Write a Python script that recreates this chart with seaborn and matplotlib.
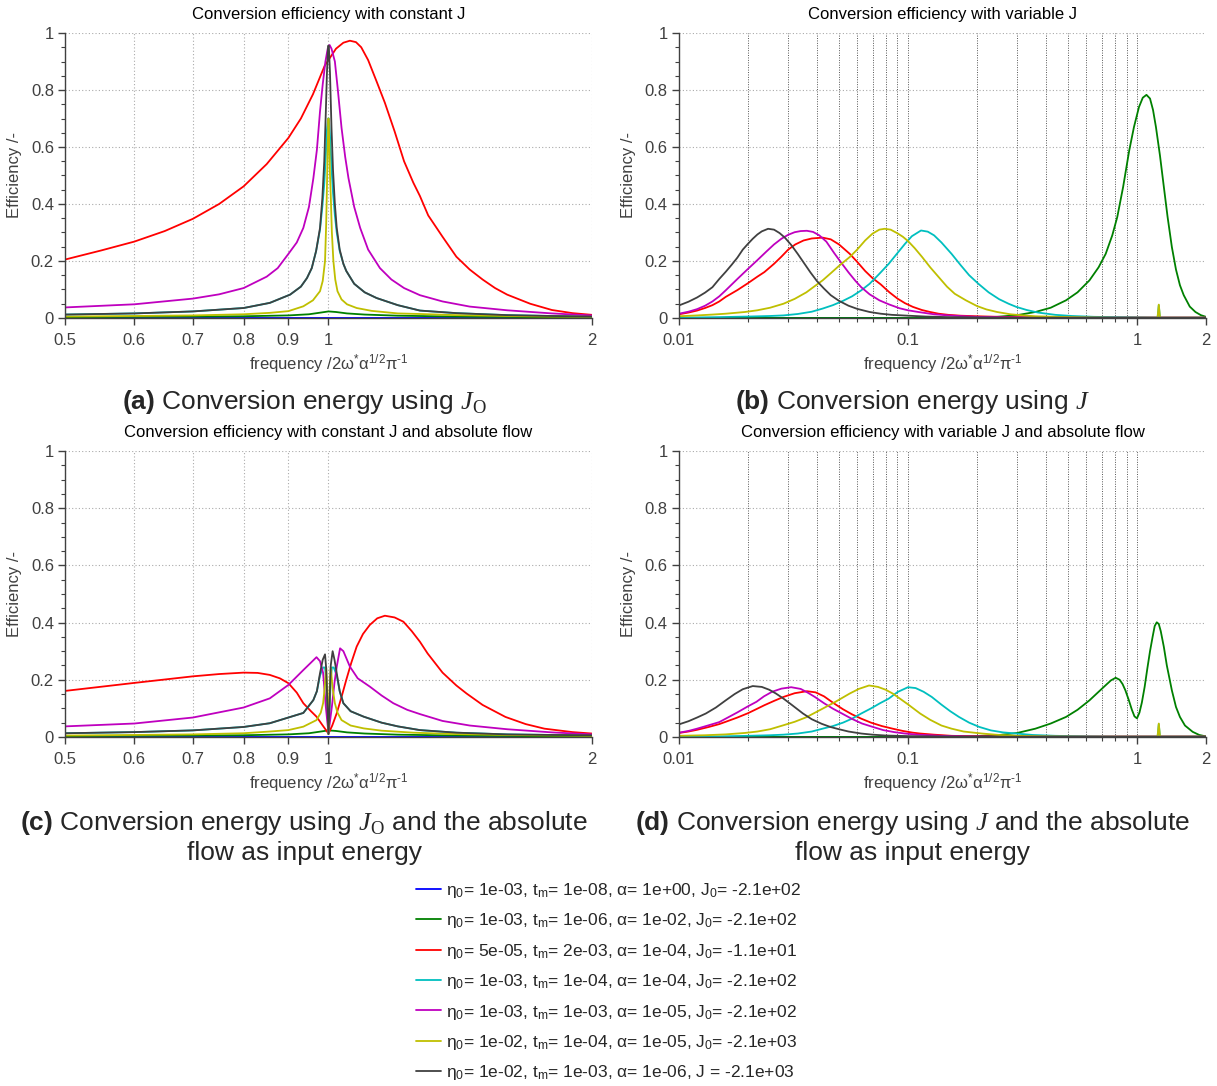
import matplotlib
matplotlib.use('Agg')
import matplotlib.pyplot as plt
from matplotlib.lines import Line2D
from matplotlib.ticker import FixedLocator, NullFormatter, MultipleLocator
import pandas as pd
import seaborn as sns

# ---------------------------------------------------------------- data
names = ['blue', 'green', 'red', 'cyan', 'magenta', 'yellow', 'black']
colors = ['#0000ff', '#008000', '#ff0000', '#00bfbf', '#bf00bf', '#bfbf00', '#404040']
labels = [
    r'$\eta_0$= 1e-03, $t_m$= 1e-08, $\alpha$= 1e+00, $J_0$= -2.1e+02',
    r'$\eta_0$= 1e-03, $t_m$= 1e-06, $\alpha$= 1e-02, $J_0$= -2.1e+02',
    r'$\eta_0$= 5e-05, $t_m$= 2e-03, $\alpha$= 1e-04, $J_0$= -1.1e+01',
    r'$\eta_0$= 1e-03, $t_m$= 1e-04, $\alpha$= 1e-04, $J_0$= -2.1e+02',
    r'$\eta_0$= 1e-03, $t_m$= 1e-03, $\alpha$= 1e-05, $J_0$= -2.1e+02',
    r'$\eta_0$= 1e-02, $t_m$= 1e-04, $\alpha$= 1e-05, $J_0$= -2.1e+03',
    r'$\eta_0$= 1e-02, $t_m$= 1e-03, $\alpha$= 1e-06, J = -2.1e+03',
]
titles = ['Conversion efficiency with constant J',
          'Conversion efficiency with variable J',
          'Conversion efficiency with constant J and absolute flow',
          'Conversion efficiency with variable J and absolute flow']
captions = [r'$\mathbf{(a)}$ Conversion energy using $\mathit{J}_\mathsf{O}$',
            r'$\mathbf{(b)}$ Conversion energy using $\mathit{J}$',
            r'$\mathbf{(c)}$ Conversion energy using $\mathit{J}_\mathsf{O}$ and the absolute' + '\nflow as input energy',
            r'$\mathbf{(d)}$ Conversion energy using $\mathit{J}$ and the absolute' + '\nflow as input energy']

# (frequency, efficiency) pairs
# panel (a): constant J
a_blue = [(0.5, 0.001), (2.0, 0.001)]
a_green = [(0.5, 0.003), (0.7, 0.005), (0.8, 0.006), (0.9, 0.009), (0.95, 0.013), (0.98, 0.019),
           (1.0, 0.023), (1.02, 0.021), (1.05, 0.016), (1.1, 0.012), (1.2, 0.008), (1.4, 0.005),
           (1.7, 0.003), (2.0, 0.003)]
a_red = [(0.5, 0.205), (0.55, 0.237), (0.6, 0.268), (0.65, 0.305), (0.7, 0.348), (0.75, 0.40),
         (0.8, 0.462), (0.85, 0.54), (0.9, 0.632), (0.93, 0.70), (0.96, 0.785), (0.99, 0.885),
         (1.02, 0.945), (1.04, 0.966), (1.058, 0.973), (1.075, 0.968), (1.09, 0.95), (1.11, 0.905),
         (1.135, 0.83), (1.16, 0.755), (1.19, 0.655), (1.22, 0.55), (1.25, 0.475), (1.272, 0.428),
         (1.3, 0.36), (1.35, 0.285), (1.4, 0.215), (1.45, 0.17), (1.5, 0.135), (1.55, 0.105),
         (1.6, 0.082), (1.7, 0.05), (1.8, 0.028), (1.9, 0.017), (2.0, 0.011)]
a_cyan = [(0.5, 0.012), (0.6, 0.016), (0.7, 0.023), (0.8, 0.035), (0.857, 0.053), (0.904, 0.082),
          (0.93, 0.11), (0.945, 0.14), (0.957, 0.175), (0.968, 0.235), (0.978, 0.31), (0.984, 0.39),
          (0.989, 0.47), (0.993, 0.57), (0.996, 0.66), (0.999, 0.70), (1.001, 0.70), (1.004, 0.64),
          (1.008, 0.53), (1.012, 0.44), (1.017, 0.36), (1.022, 0.3), (1.03, 0.235), (1.04, 0.19),
          (1.048, 0.165), (1.07, 0.12), (1.1, 0.09), (1.135, 0.07), (1.2, 0.045), (1.272, 0.026),
          (1.4, 0.017), (1.6, 0.01), (1.8, 0.007), (2.0, 0.005)]
a_magenta = [(0.5, 0.037), (0.6, 0.048), (0.7, 0.068), (0.75, 0.083), (0.8, 0.105), (0.85, 0.145),
             (0.875, 0.175), (0.9, 0.225), (0.92, 0.265), (0.936, 0.316), (0.95, 0.39), (0.961, 0.49),
             (0.97, 0.59), (0.978, 0.725), (0.985, 0.82), (0.992, 0.9), (0.998, 0.945), (1.003, 0.958),
             (1.008, 0.945), (1.012, 0.925), (1.017, 0.90), (1.025, 0.8), (1.035, 0.667), (1.045, 0.565),
             (1.054, 0.491), (1.07, 0.39), (1.087, 0.316), (1.11, 0.24), (1.145, 0.175), (1.18, 0.135),
             (1.22, 0.105), (1.272, 0.08), (1.35, 0.058), (1.45, 0.04), (1.6, 0.027), (1.8, 0.016),
             (2.0, 0.009)]
a_yellow = [(0.5, 0.005), (0.6, 0.007), (0.7, 0.009), (0.8, 0.013), (0.857, 0.018), (0.9, 0.024),
            (0.936, 0.041), (0.96, 0.062), (0.978, 0.094), (0.985, 0.13), (0.991, 0.2), (0.994, 0.33),
            (0.996, 0.46), (0.998, 0.6), (1.0, 0.70), (1.002, 0.62), (1.004, 0.5), (1.006, 0.43),
            (1.009, 0.3), (1.013, 0.2), (1.018, 0.135), (1.024, 0.094), (1.035, 0.065), (1.05, 0.048),
            (1.077, 0.035), (1.12, 0.025), (1.2, 0.016), (1.272, 0.014), (1.4, 0.01), (1.6, 0.007),
            (1.8, 0.005), (2.0, 0.004)]
a_black = [(0.5, 0.012), (0.6, 0.016), (0.7, 0.023), (0.8, 0.035), (0.857, 0.053), (0.904, 0.082),
           (0.93, 0.11), (0.945, 0.14), (0.957, 0.175), (0.968, 0.235), (0.978, 0.316), (0.984, 0.42),
           (0.989, 0.55), (0.993, 0.72), (0.996, 0.86), (0.999, 0.955), (1.001, 0.955), (1.004, 0.86),
           (1.008, 0.667), (1.012, 0.52), (1.017, 0.4), (1.022, 0.316), (1.03, 0.24), (1.04, 0.19),
           (1.048, 0.165), (1.07, 0.12), (1.1, 0.09), (1.135, 0.07), (1.2, 0.045), (1.272, 0.026),
           (1.4, 0.017), (1.6, 0.01), (1.8, 0.007), (2.0, 0.005)]

# panel (b): variable J
b_blue = [(0.01, 0.0), (2.0, 0.0)]
b_green = [(0.01, 0.0), (0.15, 0.0), (0.2, 0.002), (0.245, 0.004), (0.3, 0.01), (0.36, 0.021),
           (0.42, 0.036), (0.49, 0.062), (0.55, 0.09), (0.62, 0.132), (0.68, 0.178), (0.73, 0.225),
           (0.78, 0.29), (0.82, 0.354), (0.87, 0.46), (0.925, 0.588), (0.97, 0.67), (1.02, 0.74),
           (1.06, 0.773), (1.10, 0.783), (1.14, 0.77), (1.175, 0.73), (1.21, 0.67), (1.26, 0.57),
           (1.31, 0.46), (1.36, 0.355), (1.42, 0.249), (1.48, 0.17), (1.54, 0.115), (1.60, 0.08),
           (1.70, 0.04), (1.80, 0.021), (1.90, 0.01), (2.0, 0.004)]
b_red = [(0.010, 0.013), (0.011, 0.019), (0.012, 0.026), (0.013, 0.035), (0.014, 0.045), (0.015, 0.058),
         (0.016, 0.074), (0.018, 0.098), (0.020, 0.122), (0.022, 0.145), (0.0236, 0.161), (0.026, 0.19),
         (0.028, 0.215), (0.030, 0.24), (0.0322, 0.258), (0.035, 0.272), (0.038, 0.279), (0.0424, 0.282),
         (0.046, 0.276), (0.050, 0.258), (0.0557, 0.225), (0.060, 0.197), (0.065, 0.165), (0.070, 0.14),
         (0.076, 0.118), (0.083, 0.09), (0.090, 0.068), (0.097, 0.052), (0.105, 0.039), (0.115, 0.028),
         (0.125, 0.021), (0.136, 0.015), (0.15, 0.011), (0.17, 0.008), (0.2, 0.006), (0.25, 0.004),
         (0.3, 0.003), (0.4, 0.002), (0.6, 0.001), (2.0, 0.001)]
b_cyan = [(0.010, 0.001), (0.015, 0.003), (0.020, 0.005), (0.025, 0.007), (0.0286, 0.009), (0.033, 0.014),
          (0.038, 0.022), (0.0424, 0.033), (0.047, 0.045), (0.052, 0.06), (0.057, 0.076), (0.0625, 0.097),
          (0.068, 0.12), (0.075, 0.155), (0.0824, 0.19), (0.09, 0.228), (0.097, 0.26), (0.104, 0.287),
          (0.114, 0.307), (0.122, 0.303), (0.13, 0.29), (0.14, 0.265), (0.155, 0.225), (0.17, 0.185),
          (0.185, 0.15), (0.203, 0.12), (0.225, 0.09), (0.25, 0.066), (0.275, 0.05), (0.297, 0.039),
          (0.33, 0.028), (0.37, 0.019), (0.44, 0.011), (0.52, 0.007), (0.65, 0.004), (0.8, 0.003),
          (1.0, 0.002), (1.23, 0.001), (1.245, 0.045), (1.26, 0.001), (2.0, 0.001)]
b_magenta = [(0.010, 0.015), (0.011, 0.022), (0.012, 0.031), (0.013, 0.043), (0.014, 0.058), (0.015, 0.076),
             (0.016, 0.097), (0.018, 0.137), (0.020, 0.172), (0.022, 0.203), (0.024, 0.232), (0.026, 0.258),
             (0.028, 0.278), (0.030, 0.292), (0.032, 0.301), (0.034, 0.305), (0.0362, 0.306), (0.0385, 0.302),
             (0.041, 0.29), (0.044, 0.268), (0.0476, 0.228), (0.051, 0.195), (0.055, 0.16), (0.059, 0.13),
             (0.0625, 0.108), (0.068, 0.083), (0.075, 0.062), (0.0824, 0.048), (0.092, 0.034), (0.10, 0.027),
             (0.113, 0.02), (0.13, 0.013), (0.15, 0.009), (0.167, 0.007), (0.2, 0.004), (0.3, 0.002),
             (0.5, 0.001), (2.0, 0.001)]
b_yellow = [(0.010, 0.006), (0.012, 0.009), (0.014, 0.012), (0.016, 0.015), (0.0194, 0.021), (0.022, 0.027),
            (0.025, 0.036), (0.0286, 0.05), (0.032, 0.067), (0.036, 0.09), (0.0395, 0.114), (0.0424, 0.132),
            (0.046, 0.157), (0.050, 0.183), (0.0557, 0.214), (0.060, 0.24), (0.065, 0.272), (0.070, 0.296),
            (0.075, 0.31), (0.0791, 0.313), (0.084, 0.31), (0.090, 0.297), (0.095, 0.285), (0.100, 0.27),
            (0.107, 0.245), (0.115, 0.215), (0.125, 0.178), (0.136, 0.144), (0.148, 0.11), (0.16, 0.085),
            (0.179, 0.062), (0.2, 0.042), (0.22, 0.03), (0.245, 0.021), (0.28, 0.013), (0.32, 0.009),
            (0.36, 0.006), (0.45, 0.004), (0.6, 0.002), (0.8, 0.001), (1.23, 0.001), (1.245, 0.047),
            (1.26, 0.001), (2.0, 0.001)]
b_black = [(0.010, 0.044), (0.011, 0.057), (0.012, 0.072), (0.013, 0.089), (0.014, 0.108), (0.015, 0.137),
           (0.016, 0.162), (0.017, 0.187), (0.018, 0.212), (0.019, 0.24), (0.020, 0.26), (0.021, 0.278),
           (0.022, 0.293), (0.023, 0.304), (0.0245, 0.313), (0.026, 0.31), (0.0275, 0.298), (0.029, 0.282),
           (0.031, 0.255), (0.033, 0.225), (0.035, 0.195), (0.0375, 0.16), (0.040, 0.13), (0.043, 0.103),
           (0.046, 0.08), (0.050, 0.06), (0.055, 0.043), (0.060, 0.032), (0.068, 0.021), (0.076, 0.015),
           (0.085, 0.011), (0.10, 0.008), (0.12, 0.005), (0.15, 0.003), (0.2, 0.002), (0.3, 0.001),
           (2.0, 0.001)]

# panel (c): constant J, absolute flow
c_blue = [(0.5, 0.001), (2.0, 0.001)]
c_green = [(0.5, 0.003), (0.7, 0.005), (0.8, 0.006), (0.9, 0.009), (0.95, 0.013), (0.98, 0.019),
           (1.0, 0.023), (1.02, 0.021), (1.05, 0.016), (1.1, 0.012), (1.2, 0.008), (1.4, 0.005),
           (1.7, 0.003), (2.0, 0.003)]
c_red = [(0.5, 0.161), (0.6, 0.189), (0.7, 0.212), (0.75, 0.22), (0.8, 0.225), (0.83, 0.224),
         (0.857, 0.217), (0.88, 0.205), (0.9, 0.188), (0.92, 0.155), (0.936, 0.118), (0.955, 0.09),
         (0.969, 0.071), (0.985, 0.04), (1.0, 0.012), (1.01, 0.04), (1.022, 0.083), (1.035, 0.14),
         (1.048, 0.2), (1.062, 0.26), (1.077, 0.316), (1.095, 0.36), (1.115, 0.392), (1.137, 0.415),
         (1.16, 0.424), (1.19, 0.418), (1.218, 0.403), (1.245, 0.37), (1.272, 0.333), (1.298, 0.292),
         (1.35, 0.225), (1.4, 0.18), (1.438, 0.152), (1.5, 0.112), (1.593, 0.07), (1.68, 0.045),
         (1.765, 0.029), (1.9, 0.017), (2.0, 0.012)]
c_cyan = [(0.5, 0.013), (0.6, 0.017), (0.7, 0.023), (0.8, 0.035), (0.857, 0.048), (0.9, 0.068),
          (0.936, 0.084), (0.961, 0.129), (0.97, 0.16), (0.978, 0.215), (0.986, 0.243), (0.991, 0.243),
          (0.994, 0.2), (0.997, 0.1), (1.0, 0.01), (1.003, 0.1), (1.006, 0.2), (1.009, 0.243),
          (1.014, 0.243), (1.022, 0.215), (1.03, 0.16), (1.04, 0.118), (1.06, 0.09), (1.097, 0.071),
          (1.15, 0.05), (1.2, 0.037), (1.272, 0.024), (1.4, 0.015), (1.6, 0.009), (1.8, 0.007),
          (2.0, 0.006)]
c_magenta = [(0.5, 0.037), (0.6, 0.047), (0.7, 0.068), (0.8, 0.103), (0.857, 0.135), (0.9, 0.182),
             (0.936, 0.234), (0.955, 0.26), (0.969, 0.279), (0.978, 0.265), (0.986, 0.224), (0.993, 0.106),
             (1.0, 0.013), (1.009, 0.106), (1.016, 0.19), (1.022, 0.246), (1.031, 0.31), (1.04, 0.3),
             (1.058, 0.246), (1.08, 0.205), (1.115, 0.176), (1.15, 0.145), (1.186, 0.118), (1.23, 0.095),
             (1.272, 0.08), (1.35, 0.056), (1.45, 0.04), (1.6, 0.027), (1.8, 0.016), (2.0, 0.009)]
c_yellow = [(0.5, 0.005), (0.6, 0.007), (0.7, 0.009), (0.8, 0.013), (0.857, 0.019), (0.9, 0.024),
            (0.936, 0.036), (0.969, 0.059), (0.98, 0.085), (0.986, 0.118), (0.99, 0.17), (0.994, 0.243),
            (0.997, 0.16), (1.0, 0.01), (1.003, 0.16), (1.006, 0.243), (1.011, 0.17), (1.017, 0.118),
            (1.024, 0.085), (1.035, 0.059), (1.06, 0.04), (1.097, 0.03), (1.15, 0.022), (1.25, 0.015),
            (1.4, 0.01), (1.6, 0.007), (2.0, 0.004)]
c_black = [(0.5, 0.013), (0.6, 0.017), (0.7, 0.023), (0.8, 0.035), (0.857, 0.048), (0.9, 0.068),
           (0.936, 0.084), (0.961, 0.129), (0.97, 0.16), (0.978, 0.223), (0.985, 0.27), (0.991, 0.289),
           (0.994, 0.24), (0.997, 0.12), (1.0, 0.01), (1.003, 0.12), (1.006, 0.25), (1.011, 0.3),
           (1.016, 0.27), (1.022, 0.223), (1.03, 0.16), (1.04, 0.118), (1.06, 0.09), (1.097, 0.071),
           (1.15, 0.05), (1.2, 0.037), (1.272, 0.024), (1.4, 0.015), (1.6, 0.009), (1.8, 0.007),
           (2.0, 0.006)]

# panel (d): variable J, absolute flow
d_blue = [(0.01, 0.0), (2.0, 0.0)]
d_green = [(0.01, 0.0), (0.15, 0.0), (0.2, 0.003), (0.245, 0.006), (0.3, 0.014), (0.36, 0.029),
           (0.42, 0.047), (0.49, 0.07), (0.55, 0.095), (0.62, 0.128), (0.68, 0.158), (0.73, 0.181),
           (0.77, 0.198), (0.807, 0.207), (0.84, 0.2), (0.865, 0.185), (0.89, 0.163), (0.92, 0.13),
           (0.95, 0.095), (0.975, 0.072), (1.0, 0.065), (1.025, 0.085), (1.05, 0.12), (1.08, 0.175),
           (1.11, 0.24), (1.14, 0.3), (1.17, 0.35), (1.195, 0.388), (1.22, 0.401), (1.245, 0.395),
           (1.27, 0.37), (1.31, 0.315), (1.35, 0.25), (1.39, 0.2), (1.42, 0.163), (1.48, 0.105),
           (1.54, 0.07), (1.62, 0.04), (1.75, 0.018), (1.87, 0.007), (2.0, 0.002)]
d_red = [(0.010, 0.014), (0.011, 0.019), (0.012, 0.025), (0.0135, 0.035), (0.015, 0.045), (0.016, 0.053),
         (0.018, 0.068), (0.02, 0.083), (0.022, 0.099), (0.0236, 0.111), (0.026, 0.126), (0.0286, 0.14),
         (0.032, 0.153), (0.0362, 0.16), (0.0395, 0.156), (0.043, 0.142), (0.0476, 0.117), (0.052, 0.097),
         (0.057, 0.079), (0.0625, 0.064), (0.069, 0.05), (0.077, 0.038), (0.0857, 0.029), (0.095, 0.021),
         (0.105, 0.015), (0.113, 0.012), (0.13, 0.008), (0.155, 0.004), (0.2, 0.002), (0.3, 0.001),
         (2.0, 0.001)]
d_cyan = [(0.010, 0.001), (0.015, 0.002), (0.02, 0.004), (0.025, 0.006), (0.0286, 0.008), (0.033, 0.012),
          (0.038, 0.019), (0.0424, 0.029), (0.047, 0.038), (0.052, 0.05), (0.057, 0.064), (0.0625, 0.082),
          (0.069, 0.1), (0.0755, 0.118), (0.0824, 0.134), (0.09, 0.157), (0.1, 0.174), (0.108, 0.171),
          (0.117, 0.158), (0.127, 0.14), (0.14, 0.113), (0.153, 0.09), (0.167, 0.07), (0.185, 0.05),
          (0.205, 0.035), (0.23, 0.023), (0.26, 0.016), (0.297, 0.012), (0.35, 0.007), (0.44, 0.004),
          (0.6, 0.002), (0.8, 0.001), (1.23, 0.001), (1.245, 0.045), (1.26, 0.001), (2.0, 0.001)]
d_magenta = [(0.010, 0.015), (0.011, 0.021), (0.012, 0.029), (0.0135, 0.041), (0.015, 0.052), (0.016, 0.064),
             (0.018, 0.086), (0.02, 0.107), (0.0218, 0.123), (0.0235, 0.142), (0.0255, 0.158), (0.028, 0.169),
             (0.0309, 0.174), (0.034, 0.168), (0.0365, 0.155), (0.0392, 0.14), (0.043, 0.118), (0.047, 0.099),
             (0.0515, 0.082), (0.057, 0.063), (0.063, 0.047), (0.0703, 0.035), (0.078, 0.024), (0.087, 0.017),
             (0.097, 0.012), (0.11, 0.008), (0.125, 0.006), (0.14, 0.004), (0.18, 0.002), (0.25, 0.001),
             (2.0, 0.001)]
d_yellow = [(0.010, 0.004), (0.013, 0.006), (0.016, 0.009), (0.0194, 0.014), (0.022, 0.019), (0.025, 0.027),
            (0.0286, 0.041), (0.032, 0.053), (0.036, 0.069), (0.0424, 0.099), (0.048, 0.122), (0.0557, 0.152),
            (0.061, 0.168), (0.0676, 0.18), (0.074, 0.175), (0.08, 0.165), (0.0857, 0.152), (0.093, 0.132),
            (0.1, 0.114), (0.113, 0.082), (0.125, 0.06), (0.14, 0.04), (0.155, 0.029), (0.175, 0.019),
            (0.21, 0.012), (0.25, 0.007), (0.3, 0.004), (0.4, 0.002), (0.6, 0.001), (1.23, 0.001),
            (1.245, 0.047), (1.26, 0.001), (2.0, 0.001)]
d_black = [(0.010, 0.044), (0.011, 0.055), (0.012, 0.068), (0.0131, 0.082), (0.0145, 0.103), (0.016, 0.128),
           (0.0175, 0.15), (0.019, 0.167), (0.021, 0.178), (0.023, 0.175), (0.0248, 0.165), (0.0265, 0.152),
           (0.0285, 0.135), (0.031, 0.113), (0.0348, 0.082), (0.038, 0.062), (0.042, 0.046), (0.0458, 0.035),
           (0.05, 0.027), (0.055, 0.019), (0.0625, 0.012), (0.07, 0.008), (0.08, 0.005), (0.1, 0.003),
           (0.13, 0.002), (0.2, 0.001), (2.0, 0.001)]

near_ticks = [0.5, 0.6, 0.7, 0.8, 0.9, 1, 2]
near_ticklabels = ['0.5', '0.6', '0.7', '0.8', '0.9', '1', '2']
wide_ticks = [0.01, 0.1, 1, 2]
wide_ticklabels = ['0.01', '0.1', '1', '2']
wide_minor = [0.02, 0.03, 0.04, 0.05, 0.06, 0.07, 0.08, 0.09,
              0.2, 0.3, 0.4, 0.5, 0.6, 0.7, 0.8, 0.9]
y_ticks = [0, 0.2, 0.4, 0.6, 0.8, 1]
y_ticklabels = ['0', '0.2', '0.4', '0.6', '0.8', '1']

# ---------------------------------------------------------------- style
sns.set_style('ticks')
plt.rcParams['font.family'] = ['Liberation Sans', 'DejaVu Sans']
plt.rcParams['mathtext.fontset'] = 'custom'
plt.rcParams['mathtext.default'] = 'regular'
plt.rcParams['mathtext.rm'] = 'Liberation Sans'
plt.rcParams['mathtext.bf'] = 'Liberation Sans:bold'
plt.rcParams['mathtext.it'] = 'Liberation Serif:italic'
plt.rcParams['mathtext.sf'] = 'Liberation Serif'

GREY = '#404040'


def panel_frame(curves):
    rows = []
    for name, pairs in zip(names, curves):
        for x, y in pairs:
            rows.append((name, x, y))
    return pd.DataFrame(rows, columns=['series', 'freq', 'eff'])


def draw(ax, df, title, wide):
    ax.set_xscale('log')
    sns.lineplot(data=df, x='freq', y='eff', hue='series', hue_order=names,
                 palette=dict(zip(names, colors)), estimator=None, sort=False,
                 lw=1.3, legend=False, ax=ax)
    ax.set_ylim(0, 1)
    ax.yaxis.set_major_locator(FixedLocator(y_ticks))
    ax.set_yticklabels(y_ticklabels)
    ax.yaxis.set_minor_locator(MultipleLocator(0.05))
    if wide:
        ax.set_xlim(0.01, 2)
        ax.xaxis.set_major_locator(FixedLocator(wide_ticks))
        ax.set_xticklabels(wide_ticklabels)
        ax.xaxis.set_minor_locator(FixedLocator(wide_minor))
        ax.xaxis.set_minor_formatter(NullFormatter())
        ax.grid(axis='x', which='both', ls=(0, (1, 1.5)), color='#555555', lw=0.7)
    else:
        ax.set_xlim(0.5, 2)
        ax.xaxis.set_major_locator(FixedLocator(near_ticks))
        ax.set_xticklabels(near_ticklabels)
        ax.xaxis.set_minor_locator(FixedLocator([]))
        ax.grid(axis='x', which='major', ls=(0, (1, 2)), color='#aaaaaa', lw=0.8)
    ax.grid(axis='y', which='major', ls=(0, (1, 2)), color='#aaaaaa', lw=0.8)
    ax.set_axisbelow(True)
    for side in ['top', 'right']:
        ax.spines[side].set_visible(False)
    for side in ['left', 'bottom']:
        ax.spines[side].set_color(GREY)
        ax.spines[side].set_linewidth(1.0)
    ax.tick_params(which='major', direction='out', length=5, width=1.0,
                   color=GREY, labelcolor=GREY, labelsize=12)
    ax.tick_params(which='minor', direction='out', length=3, width=0.8, color=GREY)
    ax.tick_params(axis='x', which='major', pad=6)
    ax.tick_params(axis='y', which='major', pad=3)
    ax.set_title(title, fontsize=12, pad=10, color='black')
    ax.set_ylabel('Efficiency /-', fontsize=12, color=GREY, labelpad=6)
    ax.set_xlabel(r'frequency /2$\omega^{*}\alpha^{1/2}\pi^{\text{-1}}$', fontsize=12,
                  color=GREY, labelpad=3)


fig = plt.figure(figsize=(12.17, 10.86), dpi=100)
boxes = [[0.0534, 0.7072, 0.4330, 0.2624],
         [0.5579, 0.7072, 0.4330, 0.2624],
         [0.0534, 0.3214, 0.4330, 0.2633],
         [0.5579, 0.3214, 0.4330, 0.2633]]

panels = [
    [a_blue, a_green, a_red, a_cyan, a_magenta, a_yellow, a_black],
    [b_blue, b_green, b_red, b_cyan, b_magenta, b_yellow, b_black],
    [c_blue, c_green, c_red, c_cyan, c_magenta, c_yellow, c_black],
    [d_blue, d_green, d_red, d_cyan, d_magenta, d_yellow, d_black],
]

for i, (box, curves) in enumerate(zip(boxes, panels)):
    ax = fig.add_axes(box)
    draw(ax, panel_frame(curves), titles[i], wide=(i % 2 == 1))

caption_pos = [(0.25, 0.6298), (0.75, 0.6298), (0.25, 0.2293), (0.75, 0.2293)]
for (cx, cy), text in zip(caption_pos, captions):
    fig.text(cx, cy, text, ha='center', va='center', fontsize=19,
             linespacing=1.2, multialignment='center')

handles = [Line2D([], [], color=c, lw=1.3) for c in colors]
fig.legend(handles, labels, loc='upper center', bbox_to_anchor=(0.5, 1 - 872 / 1086),
           frameon=False, fontsize=12.5, handlelength=1.45, handletextpad=0.25,
           labelspacing=0.66, borderpad=0.0)

fig.savefig('out.png', dpi=100, facecolor='white')
